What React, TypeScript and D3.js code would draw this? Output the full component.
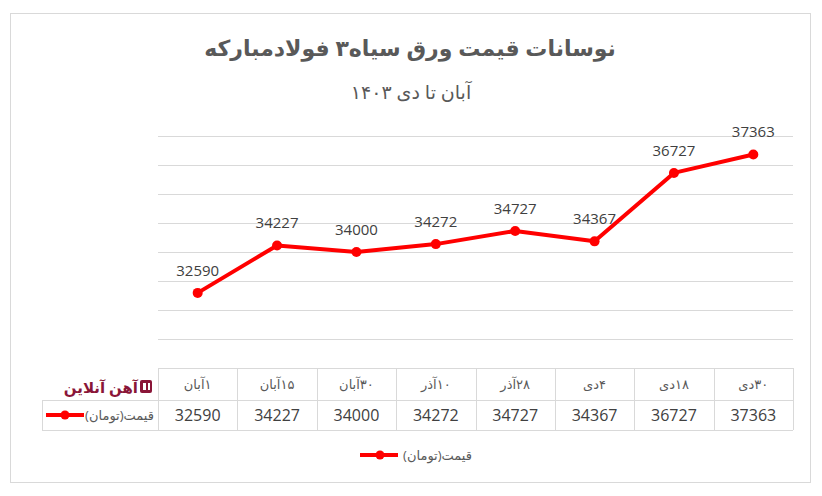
import * as d3 from 'd3'

// Data
const categories = ['۱آبان', '۱۵آبان', '۳۰آبان', '۱۰آذر', '۲۸آذر', '۴دی', '۱۸دی', '۳۰دی']
const prices = [32590, 34227, 34000, 34272, 34727, 34367, 36727, 37363]
const yDomain = [30000, 38000]

const TITLE = 'نوسانات قیمت ورق سیاه۳ فولادمبارکه'
const SUBTITLE = 'آبان تا دی ۱۴۰۳'
const SERIES = 'قیمت(تومان)'
const LOGO = 'آهن آنلاین'

const W = 822
const H = 496
const PLOT = { left: 158, right: 793, top: 136, bottom: 368 }
const ROW1 = 400
const ROW2 = 430
const LEGEND_LEFT = 42

const GRID = '#d9d9d9'
const TEXT = '#595959'
const DARK = '#404040'
const RED = '#ff0000'
const FONT = '"Open Sans", "DejaVu Sans", sans-serif'

export default function App() {
  const x = d3.scaleBand<string>().domain(categories).range([PLOT.left, PLOT.right]).padding(0)
  const y = d3.scaleLinear().domain(yDomain).range([PLOT.bottom, PLOT.top])
  const cx = (c: string) => (x(c) ?? 0) + x.bandwidth() / 2

  const points = categories.map((c, i) => ({ c, v: prices[i] }))
  const line = d3.line<{ c: string; v: number }>().x(d => cx(d.c)).y(d => y(d.v))

  const ticks = y.ticks(8)
  const bounds = categories.map(c => x(c) ?? 0).concat([PLOT.right])

  // rtl texts: text-anchor "start" puts the text's right edge at x
  const rtl = { direction: 'rtl' as const }

  return (
    <div style={{ position: 'fixed', left: 0, top: 0 }}>
      <svg width={W} height={H} style={{ display: 'block', background: '#fff', fontFamily: FONT }}>
        {/* outer frame */}
        <rect x={10.5} y={13.5} width={800} height={469} fill="none" stroke={GRID} />

        {/* titles */}
        <text x={410} y={56} textAnchor="middle" fontSize={22} fontWeight="bold" fill={TEXT} style={rtl}>{TITLE}</text>
        <text x={411} y={99} textAnchor="middle" fontSize={19} fill={TEXT} style={rtl}>{SUBTITLE}</text>

        {/* grid lines */}
        {ticks.slice(1).map(t => (
          <line key={t} x1={PLOT.left} x2={PLOT.right} y1={Math.round(y(t)) + 0.5} y2={Math.round(y(t)) + 0.5}
            stroke={GRID} strokeWidth={1} />
        ))}

        {/* data table */}
        <line x1={PLOT.left} x2={PLOT.right} y1={PLOT.bottom + 0.5} y2={PLOT.bottom + 0.5} stroke={GRID} />
        <line x1={LEGEND_LEFT} x2={PLOT.right} y1={ROW1 + 0.5} y2={ROW1 + 0.5} stroke={GRID} />
        <line x1={LEGEND_LEFT} x2={PLOT.right} y1={ROW2 + 0.5} y2={ROW2 + 0.5} stroke={GRID} />
        <line x1={LEGEND_LEFT + 0.5} x2={LEGEND_LEFT + 0.5} y1={ROW1} y2={ROW2} stroke={GRID} />
        {bounds.map((b, i) => (
          <line key={i} x1={Math.round(b) + 0.5} x2={Math.round(b) + 0.5} y1={PLOT.bottom} y2={ROW2} stroke={GRID} />
        ))}
        {categories.map(c => (
          <text key={c} x={cx(c)} y={(PLOT.bottom + ROW1) / 2 + 5} textAnchor="middle" fontSize={13}
            fill={TEXT} style={rtl}>{c}</text>
        ))}
        {points.map(d => (
          <text key={d.c} x={cx(d.c)} y={(ROW1 + ROW2) / 2 + 6} textAnchor="middle" fontSize={16}
            fill={DARK}>{d.v}</text>
        ))}

        {/* legend key inside table */}
        <line x1={46} x2={84} y1={415} y2={415} stroke={RED} strokeWidth={4} />
        <circle cx={65} cy={415} r={4.5} fill={RED} />
        <text x={154} y={420} textAnchor="start" fontSize={13} fill={TEXT} style={rtl}>{SERIES}</text>

        {/* logo */}
        <g fill="#8a1538">
          <rect x={140} y={380} width={12} height={13} rx={2} />
          <rect x={143} y={383} width={3} height={7} fill="#fff" />
          <rect x={148} y={383} width={2} height={7} fill="#fff" />
          <text x={138} y={393} textAnchor="start" fontSize={15} fontWeight="bold" style={rtl}>{LOGO}</text>
        </g>

        {/* series */}
        <path d={line(points) ?? ''} fill="none" stroke={RED} strokeWidth={4} strokeLinejoin="round" />
        {points.map(d => (
          <circle key={d.c} cx={cx(d.c)} cy={y(d.v)} r={5} fill={RED} />
        ))}
        {points.map(d => (
          <text key={d.c} x={cx(d.c)} y={y(d.v) - 17} textAnchor="middle" fontSize={15} fill={DARK}>{d.v}</text>
        ))}

        {/* bottom legend */}
        <line x1={360} x2={398} y1={455} y2={455} stroke={RED} strokeWidth={4} />
        <circle cx={380} cy={455} r={4.5} fill={RED} />
        <text x={472} y={460} textAnchor="start" fontSize={13} fill={TEXT} style={rtl}>{SERIES}</text>
      </svg>
    </div>
  )
}
